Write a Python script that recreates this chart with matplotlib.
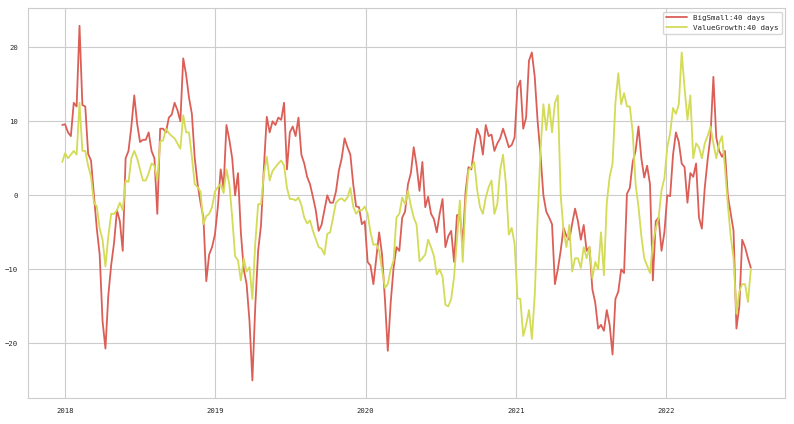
import matplotlib
matplotlib.use("Agg")
import matplotlib.pyplot as plt
import matplotlib.dates as mdates
import seaborn as sns
import pandas as pd

# weekly samples, starting 2017-12-25
dates = pd.date_range("2017-12-25", periods=240, freq="7D")

big_small = [
    9.5, 9.6, 8.5, 8.0, 12.5, 12.0, 22.9, 12.2, 12.0, 5.6,
    4.7, 0.0, -4.5, -8.0, -17.0, -20.7, -13.5, -9.4, -6.4, -2.0,
    -3.5, -7.5, 5.0, 6.0, 9.3, 13.5, 9.7, 7.2, 7.5, 7.5,
    8.5, 6.0, 5.0, -2.5, 9.0, 9.0, 8.5, 10.5, 10.9, 12.5,
    11.5, 10.0, 18.5, 16.3, 13.2, 11.0, 5.0, 1.5, -1.0, -3.0,
    -11.6, -8.0, -7.0, -5.3, -1.6, 3.5, 1.0, 9.5, 7.5, 5.0,
    0.0, 3.0, -5.0, -10.0, -12.0, -17.0, -25.0, -15.0, -7.5, -4.0,
    3.8, 10.6, 8.5, 10.0, 9.5, 10.5, 10.2, 12.5, 3.5, 8.5,
    9.3, 8.0, 10.5, 5.5, 4.3, 2.5, 1.5, -0.2, -2.0, -4.8,
    -4.0, -2.0, 0.0, -1.0, -1.0, 0.5, 3.3, 5.0, 7.7, 6.5,
    5.5, 1.5, -1.5, -1.6, -3.9, -3.5, -9.0, -9.5, -12.0, -8.5,
    -5.0, -8.0, -14.0, -21.0, -14.5, -9.8, -7.0, -7.5, -3.0, -2.2,
    1.5, 3.0, 6.5, 4.0, 0.6, 4.5, -1.6, -0.2, -2.5, -3.2,
    -5.0, -2.5, -0.5, -7.0, -5.5, -4.8, -9.0, -2.7, -2.5, -6.5,
    0.5, 3.8, 3.5, 6.5, 9.0, 8.0, 5.5, 9.5, 8.0, 8.2,
    6.0, 7.0, 7.7, 9.0, 7.8, 6.5, 6.8, 7.8, 14.5, 15.5,
    9.0, 10.5, 18.2, 19.3, 16.0, 10.0, 5.5, 0.0, -2.2, -3.0,
    -3.9, -12.0, -10.0, -7.5, -4.4, -5.5, -6.0, -3.8, -1.8, -3.5,
    -6.0, -4.0, -7.5, -7.0, -12.7, -14.5, -18.0, -17.5, -18.3, -15.5,
    -17.5, -21.5, -14.0, -13.0, -10.0, -10.5, 0.2, 1.0, 4.5, 6.0,
    9.3, 5.0, 2.4, 4.0, 1.5, -11.5, -3.5, -3.0, -7.5, -5.0,
    0.0, -0.1, 5.5, 8.5, 7.2, 4.3, 3.8, -1.0, 3.0, 2.5,
    4.3, -3.0, -4.5, 1.0, 4.8, 8.0, 16.0, 7.8, 6.0, 5.2,
    6.0, 0.0, -2.4, -4.8, -18.0, -15.0, -6.0, -7.0, -8.5, -9.8,
]

value_growth = [
    4.5, 5.7, 5.0, 5.5, 6.0, 5.5, 12.5, 6.0, 6.0, 4.0,
    2.5, -1.0, -1.5, -4.5, -6.0, -9.6, -5.5, -2.5, -2.5, -2.0,
    -1.0, -2.0, 2.0, 1.8, 5.0, 6.0, 5.0, 3.5, 2.0, 2.0,
    3.0, 4.3, 4.0, 2.0, 7.3, 7.4, 9.0, 8.4, 8.0, 7.7,
    7.0, 6.3, 10.8, 8.5, 8.5, 5.2, 1.5, 1.1, 0.5, -3.9,
    -2.8, -2.5, -1.6, 0.5, 1.1, 1.5, 0.3, 3.5, 1.5, -3.0,
    -8.2, -8.8, -11.5, -8.5, -10.3, -9.7, -14.0, -6.5, -1.2, -1.2,
    2.9, 5.2, 2.0, 3.3, 3.8, 4.3, 4.7, 4.0, 1.0, -0.5,
    -0.5, -0.7, -0.3, -1.3, -3.0, -3.8, -3.4, -4.8, -5.9, -7.0,
    -7.2, -8.0, -5.2, -5.0, -3.0, -1.0, -0.6, -0.4, -0.8, -0.3,
    1.0, -1.5, -2.5, -2.0, -2.0, -1.5, -2.5, -5.0, -6.7, -6.6,
    -7.5, -10.0, -12.5, -12.0, -10.0, -8.8, -3.0, -2.5, -0.3, -1.2,
    0.6, -1.4, -3.0, -4.0, -8.9, -8.5, -8.0, -6.0, -7.0, -8.2,
    -10.7, -10.0, -11.0, -14.8, -15.0, -14.0, -11.0, -6.0, -0.7, -9.0,
    -1.0, 3.4, 3.8, 4.5, 0.8, -1.6, -2.5, -0.3, 1.1, 2.0,
    -2.5, -1.2, 3.4, 5.5, 1.5, -5.3, -4.4, -6.5, -13.9, -14.0,
    -19.0, -17.5, -15.5, -19.4, -13.5, -3.0, 6.0, 12.3, 8.8, 12.3,
    8.5, 12.5, 13.5, 0.0, -4.8, -7.0, -4.0, -10.3, -8.5, -8.5,
    -9.8, -7.0, -8.5, -7.0, -11.2, -9.0, -10.0, -5.0, -10.8, -1.0,
    2.5, 4.3, 12.5, 16.5, 12.3, 13.8, 12.0, 12.0, 8.5, 1.5,
    -1.5, -5.5, -8.5, -9.5, -10.5, -6.5, -4.5, -3.0, 0.7, 2.3,
    6.5, 8.4, 11.8, 11.0, 12.3, 19.3, 14.5, 10.2, 13.5, 5.0,
    7.0, 6.5, 5.0, 7.0, 8.0, 9.3, 7.0, 5.0, 7.0, 8.0,
    3.8, -1.2, -5.5, -8.5, -16.0, -13.0, -12.0, -12.0, -14.4, -10.0,
]

labels = ["BigSmall:40 days", "ValueGrowth:40 days"]

sns.set_style("whitegrid")
plt.rcParams["font.family"] = ["DejaVu Sans Mono"]

colors = sns.color_palette("hls", 6)

fig, ax = plt.subplots(figsize=(7.94, 4.24), dpi=100)
fig.subplots_adjust(left=0.035, right=0.989, top=0.981, bottom=0.061)

ax.plot(dates, big_small, color=colors[0], lw=1.3, label=labels[0])
ax.plot(dates, value_growth, color=colors[1], lw=1.3, label=labels[1])

ax.xaxis.set_major_locator(mdates.YearLocator())
ax.xaxis.set_major_formatter(mdates.DateFormatter("%Y"))
ax.tick_params(labelsize=5.2)

ax.legend(loc="upper right", fontsize=5.4, handlelength=2.8)

fig.savefig("out.png", dpi=100)
